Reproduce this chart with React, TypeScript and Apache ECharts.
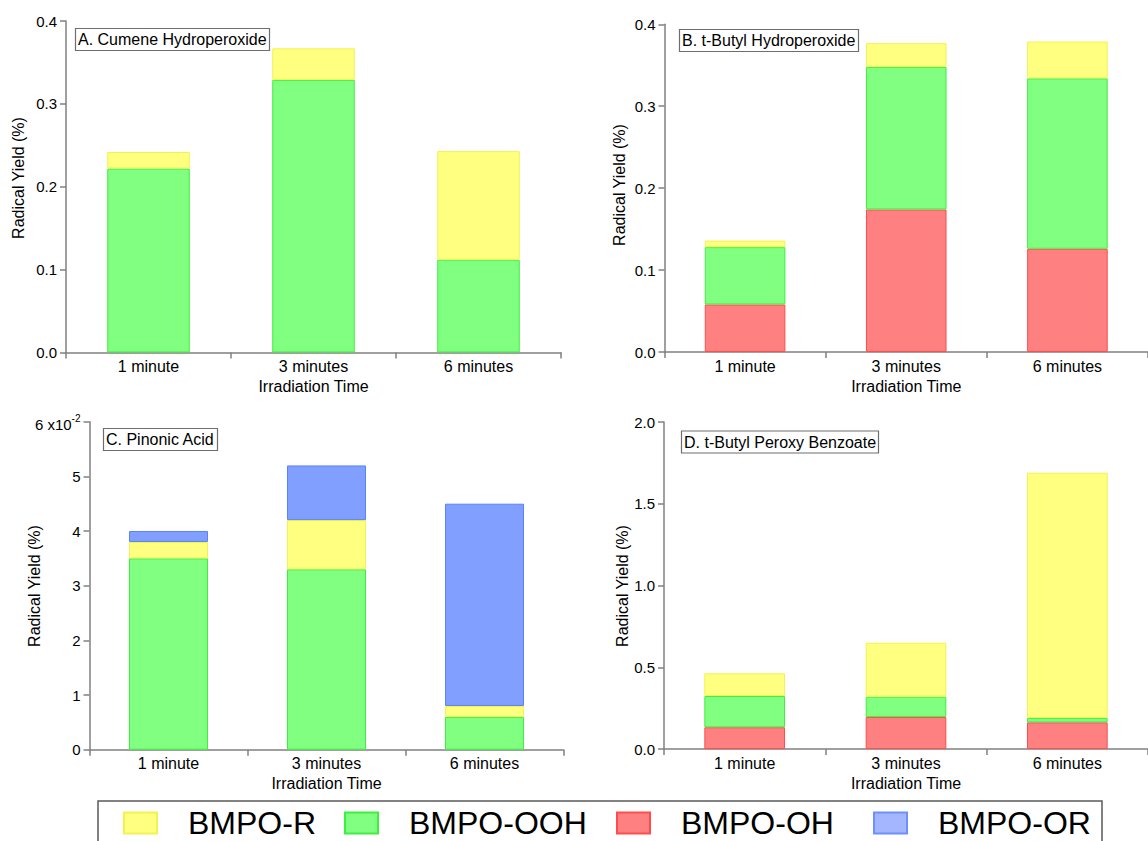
import React, { useEffect, useRef } from "react";
import * as echarts from "echarts";

// ---- data ----
const categories = ["1 minute", "3 minutes", "6 minutes"];
const seriesNames = ["BMPO-R", "BMPO-OOH", "BMPO-OH", "BMPO-OR"];

// Panel A. Cumene Hydroperoxide (segment values, %)
const aOOH = [0.222, 0.329, 0.112];
const aR = [0.02, 0.038, 0.131];
// Panel B. t-Butyl Hydroperoxide
const bOH = [0.058, 0.174, 0.126];
const bOOH = [0.07, 0.174, 0.208];
const bR = [0.008, 0.029, 0.045];
// Panel C. Pinonic Acid
const cOOH = [0.035, 0.033, 0.006];
const cR = [0.003, 0.009, 0.002];
const cOR = [0.002, 0.01, 0.037];
// Panel D. t-Butyl Peroxy Benzoate
const dOH = [0.133, 0.196, 0.163];
const dOOH = [0.191, 0.124, 0.027];
const dR = [0.139, 0.33, 1.5];

const panelTitles = [
  "A. Cumene Hydroperoxide",
  "B. t-Butyl Hydroperoxide",
  "C. Pinonic Acid",
  "D. t-Butyl Peroxy Benzoate",
];
const axisMax = [0.4, 0.4, 0.06, 2.0];
const axisStep = [0.1, 0.1, 0.01, 0.5];

const FONT = "Liberation Sans, Arial, Helvetica, sans-serif";
const AXIS_COLOR = "#808080";

const styles: Record<string, { color: string; borderColor: string }> = {
  "BMPO-R": { color: "#FFFF80", borderColor: "#F2F250" },
  "BMPO-OOH": { color: "#80FF80", borderColor: "#3FEF3F" },
  "BMPO-OH": { color: "#FF8080", borderColor: "#FF4D4D" },
  "BMPO-OR": { color: "#809FFF", borderColor: "#5A82FF" },
};

function bar(name: string, data: number[], idx: number) {
  return {
    type: "bar",
    name,
    data,
    xAxisIndex: idx,
    yAxisIndex: idx,
    stack: "s" + idx,
    barWidth: "50%",
    itemStyle: { ...styles[name], borderWidth: 1 },
  };
}

const grids = [
  { left: 66, top: 21, width: 495, height: 331.5 },
  { left: 664.5, top: 24.3, width: 490.5, height: 327.7 },
  { left: 89.5, top: 421.7, width: 474, height: 328 },
  { left: 664, top: 422, width: 493, height: 327 },
];

const titlePos = [
  { left: 75, top: 28 },
  { left: 679, top: 29 },
  { left: 103, top: 428 },
  { left: 681, top: 430.5 },
];

const yTitlePos = [
  { x: 18, y: 178 },
  { x: 619, y: 185 },
  { x: 34, y: 586 },
  { x: 622, y: 586 },
];

const legendPos = [123, 344, 616, 873];

export default function App() {
  const ref = useRef<HTMLDivElement>(null);
  useEffect(() => {
    if (!ref.current) return;
    const chart = echarts.init(ref.current, undefined, { renderer: "svg" });

    const xAxes = grids.map((_, i) => ({
      type: "category",
      gridIndex: i,
      data: categories,
      boundaryGap: true,
      axisLine: { show: true, lineStyle: { color: AXIS_COLOR, width: 1.5 } },
      axisTick: { show: true, length: 6, alignWithLabel: false, lineStyle: { color: AXIS_COLOR, width: 1.5 } },
      axisLabel: { fontSize: 16, color: "#000", margin: 6, fontFamily: FONT },
      name: "Irradiation Time",
      nameLocation: "middle",
      nameGap: 26,
      nameTextStyle: { fontSize: 16, color: "#000", fontFamily: FONT },
    }));

    const yAxes = grids.map((_, i) => ({
      type: "value",
      gridIndex: i,
      min: 0,
      max: axisMax[i],
      interval: axisStep[i],
      splitLine: { show: false },
      axisLine: { show: true, lineStyle: { color: AXIS_COLOR, width: 1.5 } },
      axisTick: { show: true, length: 6, lineStyle: { color: AXIS_COLOR, width: 1.5 } },
      axisLabel: {
        fontSize: 15,
        color: "#000",
        margin: 9,
        fontFamily: FONT,
        formatter:
          i === 2
            ? (v: number) =>
                v > 0.0595 ? "{n|6 x10}{s|-2}" : String(Math.round(v * 100))
            : (v: number) => v.toFixed(1),
        rich:
          i === 2
            ? {
                n: { fontSize: 15, color: "#000", fontFamily: FONT, padding: [6, 0, 0, 0] },
                s: { fontSize: 10, color: "#000", fontFamily: FONT, padding: [0, 0, 6, 0] },
              }
            : undefined,
      },
    }));

    const series = [
      bar("BMPO-OOH", aOOH, 0),
      bar("BMPO-R", aR, 0),
      bar("BMPO-OH", bOH, 1),
      bar("BMPO-OOH", bOOH, 1),
      bar("BMPO-R", bR, 1),
      bar("BMPO-OOH", cOOH, 2),
      bar("BMPO-R", cR, 2),
      bar("BMPO-OR", cOR, 2),
      bar("BMPO-OH", dOH, 3),
      bar("BMPO-OOH", dOOH, 3),
      bar("BMPO-R", dR, 3),
    ];

    const legends = seriesNames.map((n, i) => ({
      data:
        n === "BMPO-OR"
          ? [{ name: n, itemStyle: { color: "#A3B6FF", borderColor: "#6F8FFF" } }]
          : [n],
      left: legendPos[i],
      top: 804,
      padding: 0,
      itemWidth: 33,
      itemHeight: 21,
      selectedMode: false,
      icon: "rect",
      textStyle: {
        fontSize: 32,
        lineHeight: 32,
        color: "#000",
        fontFamily: FONT,
        padding: [0, 0, 6, 26],
      },
    }));

    const titles = panelTitles.map((t, i) => ({
      text: t,
      left: titlePos[i].left,
      top: titlePos[i].top,
      borderColor: "#6e6e6e",
      borderWidth: 1.2,
      backgroundColor: "#fff",
      padding: [3, 3, 3, 3],
      textStyle: {
        fontSize: 16,
        fontWeight: "normal",
        color: "#000",
        fontFamily: FONT,
        lineHeight: 17,
      },
    }));

    const graphics: any[] = [
      {
        type: "rect",
        shape: { x: 98, y: 801, width: 1004, height: 60 },
        style: { fill: "none", stroke: "#5a5a5a", lineWidth: 1.5 },
        silent: true,
      },
      ...yTitlePos.map((p) => ({
        type: "text",
        x: p.x,
        y: p.y,
        rotation: Math.PI / 2,
        style: {
          text: "Radical Yield (%)",
          fontSize: 16,
          fontFamily: FONT,
          fill: "#000",
          align: "center",
          verticalAlign: "middle",
        },
        silent: true,
      })),
    ];

    chart.setOption({
      animation: false,
      backgroundColor: "#fff",
      textStyle: { fontFamily: FONT },
      title: titles,
      legend: legends,
      grid: grids,
      xAxis: xAxes,
      yAxis: yAxes,
      series,
      graphic: graphics,
    });

    return () => chart.dispose();
  }, []);

  return (
    <div
      ref={ref}
      style={{ position: "absolute", left: 0, top: 0, width: 1148, height: 841 }}
    />
  );
}
